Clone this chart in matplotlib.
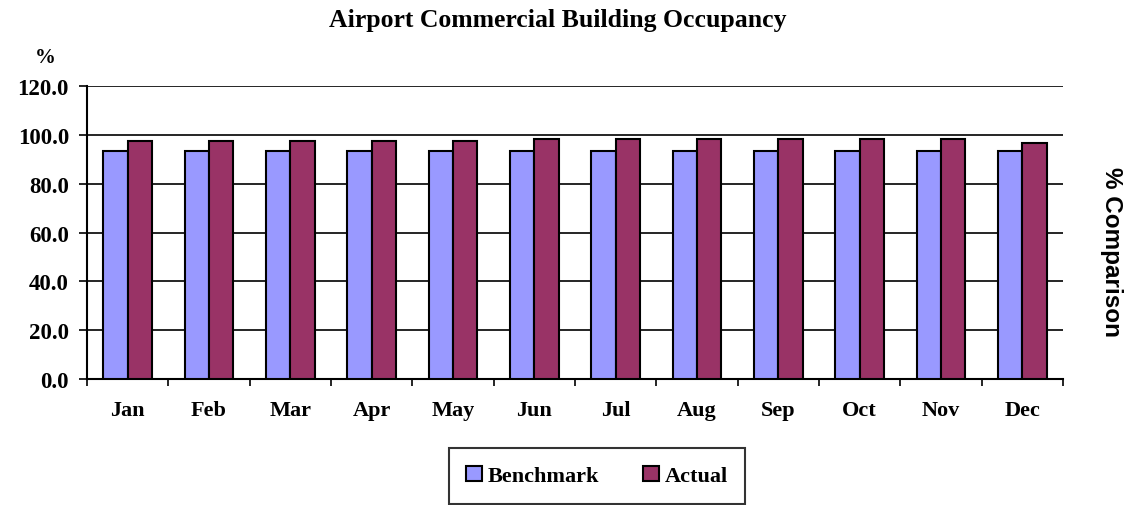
import matplotlib
matplotlib.use("Agg")
import matplotlib.pyplot as plt
import numpy as np

months = ["Jan", "Feb", "Mar", "Apr", "May", "Jun", "Jul", "Aug", "Sep", "Oct", "Nov", "Dec"]
benchmark = [93.3, 93.3, 93.3, 93.3, 93.3, 93.3, 93.3, 93.3, 93.3, 93.3, 93.3, 93.3]
actual = [97.4, 97.4, 97.4, 97.4, 97.4, 98.1, 98.1, 98.1, 98.1, 98.1, 98.1, 96.7]
yticks = [0, 20, 40, 60, 80, 100, 120]

serif = "Liberation Serif"
sans = "Liberation Sans"

fig = plt.figure(figsize=(11.39, 5.06), dpi=100)
ax = fig.add_axes([87/1139, 1-380/506, (1063-87)/1139, (380-87)/506])

x = np.arange(len(months))
w = 0.3
ax.bar(x - w/2, benchmark, w, color="#9999FF", edgecolor="black", linewidth=1.5, label="Benchmark", zorder=3)
ax.bar(x + w/2, actual, w, color="#993366", edgecolor="black", linewidth=1.5, label="Actual", zorder=3)

ax.set_xlim(-0.5, len(months) - 0.5)
ax.set_ylim(0, 120)
ax.set_yticks(yticks)
ax.set_yticklabels([f"{v:.1f}" for v in yticks], fontfamily=serif, fontweight="bold", fontsize=16.5)
ax.yaxis.grid(True, color="black", linewidth=1.2, zorder=0)
ax.set_axisbelow(True)

ax.set_xticks(np.arange(-0.5, len(months), 1.0))
ax.set_xticklabels([])
ax.set_xticks(x, minor=True)
ax.set_xticklabels(months, minor=True, fontfamily=serif, fontweight="bold", fontsize=16)
ax.tick_params(axis="x", which="minor", length=0, pad=15)
ax.tick_params(axis="x", which="major", length=5, width=1.2, direction="out")
ax.tick_params(axis="y", length=6, width=1.2, direction="out", pad=7)

for s in ["top", "right"]:
    ax.spines[s].set_visible(False)
ax.spines["left"].set_linewidth(1.5)
ax.spines["bottom"].set_linewidth(1.5)

fig.text(558/1139, 1-20/506, "Airport Commercial Building Occupancy", ha="center", va="center",
         fontfamily=serif, fontweight="bold", fontsize=18.5)
fig.text(45/1139, 1-58/506, "%", ha="center", va="center",
         fontfamily=serif, fontweight="bold", fontsize=15)
fig.text(1111/1139, 1-252/506, "% Comparison", ha="center", va="center", rotation=-90,
         fontfamily=sans, fontweight="bold", fontsize=17.5)

leg = fig.legend(loc="center", bbox_to_anchor=(597/1139, 1-477/506), ncol=2, frameon=True,
                 prop={"family": serif, "weight": "bold", "size": 16},
                 handlelength=0.7, handleheight=0.7, handletextpad=0.25, columnspacing=2.0,
                 borderpad=0.8, fancybox=False, edgecolor="black")
leg.get_frame().set_linewidth(1.5)

fig.savefig("out.png", dpi=100)
